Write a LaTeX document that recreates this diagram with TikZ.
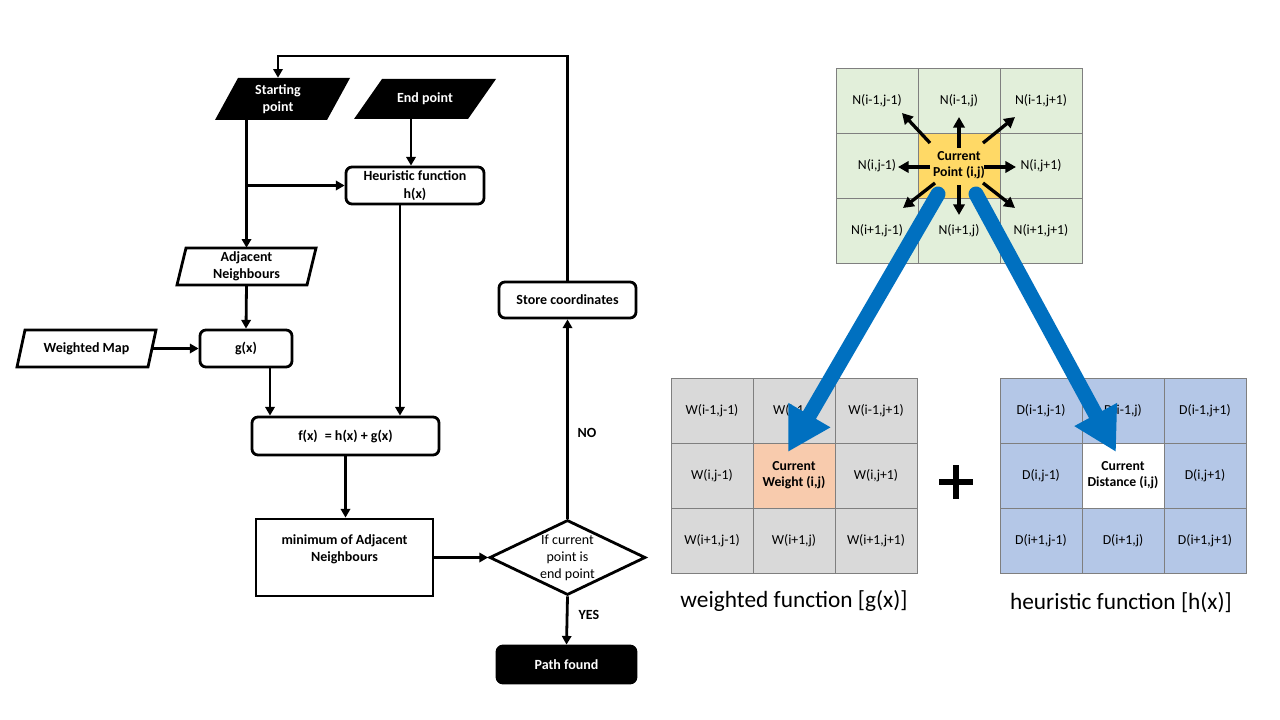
\documentclass[tikz,border=0pt]{standalone}
\usepackage{fontspec}
\setmainfont{Carlito}
\usetikzlibrary{arrows.meta,shapes.geometric,calc}
\definecolor{cgreen}{HTML}{E2EFDA}
\definecolor{cyellow}{HTML}{FFD966}
\definecolor{cgray}{HTML}{D9D9D9}
\definecolor{cpeach}{HTML}{F8CBAD}
\definecolor{cblue}{HTML}{B4C7E7}
\definecolor{abl}{HTML}{0070C0}
\definecolor{gline}{HTML}{7F7F7F}
\newcommand\flfont{\fontsize{10.5}{13}\selectfont\bfseries}
\newcommand\cellfont{\fontsize{10.3}{12}\selectfont}
\begin{document}
\begin{tikzpicture}[x=0.75pt,y=-0.75pt,
  arr/.style={line width=2.1pt,-{Triangle[length=6.5pt,width=7pt]}},
  fbox/.style={draw,line width=2.1pt,fill=white,inner sep=0pt,align=center,font=\flfont},
  rbox/.style={fbox,rounded corners=4.5pt},
  ptxt/.style={inner sep=0pt,align=center,font=\flfont},
  pline/.style={draw,line width=2.1pt,fill=white},
  cell/.style={draw=gline,line width=0.7pt,minimum width=61.5pt,minimum height=48.75pt,inner sep=0pt,align=center,font=\cellfont},
  ccell/.style={cell,font=\cellfont\bfseries},
  narr/.style={line width=2.5pt,-{Triangle[length=8pt,width=8.5pt]}},
  barr/.style={draw=abl,line width=11.25pt,line cap=round,-{Triangle[length=32pt,width=34pt]}},
  capt/.style={font=\fontsize{17.5}{20}\selectfont}
]
\useasboundingbox (0,0) rectangle (1280,720);
\fill[white] (0,0) rectangle (1280,720);

% ---------- flowchart ----------
% Starting point
\fill[black] (215,120) -- (327,120) -- (350,78) -- (238,78) -- cycle;
\node[ptxt,minimum width=84pt,minimum height=31.5pt] (sp) at (282.5,99) {};
\node[ptxt,text=white] (sptxt) at (278,99) {Starting\\point};
% End point
\fill[black] (354,119) -- (468,119) -- (496,79) -- (382,79) -- cycle;
\node[ptxt,text=white,minimum width=85.5pt,minimum height=30pt] (ep) at (425,99) {End point};
% Adjacent Neighbours
\path[pline] (177,285) -- (307,285) -- (316,248) -- (186,248) -- cycle;
\node[ptxt,minimum width=97.5pt,minimum height=27.75pt] (adj) at (246.5,266.5) {Adjacent\\Neighbours};
% Weighted Map
\path[pline] (17,367) -- (148,367) -- (156,330) -- (25,330) -- cycle;
\node[ptxt,minimum width=98.25pt,minimum height=27.75pt] (wm) at (86.5,348.5) {Weighted Map};

\node[rbox,minimum width=103.5pt,minimum height=27.75pt] (hx) at (415,185.5) {Heuristic function\\h(x)};
\node[rbox,minimum width=69pt,minimum height=27.75pt] (gx) at (246,348.5) {g(x)};
\node[rbox,minimum width=140.25pt,minimum height=28.5pt] (fx) at (345.5,436) {f(x)\enspace= h(x) + g(x)};
\node[fbox,minimum width=132.75pt,minimum height=57.75pt] (minb) at (344.5,557.5) {};
\node[ptxt] (mintxt) at (344.5,549) {minimum of Adjacent\\Neighbours};
\node[draw,diamond,line width=2.1pt,fill=white,minimum width=117pt,minimum height=56.25pt,inner sep=0pt] (dec) at (567.5,557.5) {};
\node[inner sep=0pt,align=center,font=\fontsize{10.5}{12.75}\selectfont] (dectxt) at (567.5,557.5) {If current\\point is\\end point};
\node[rbox,minimum width=102.75pt,minimum height=27pt] (store) at (567.5,300) {Store coordinates};
\node[rbox,fill=black,text=white,minimum width=104.25pt,minimum height=27.75pt] (pf) at (566.5,664.5) {Path found};

% connectors
\coordinate (loopR) at (567.5,56);
\coordinate (loopL) at (278,56);
\draw[arr] (store.north) -- (loopR) -- (loopL) -- (sptxt |- sp.north);
\draw[arr] (adj.north |- sp.south) -- (adj.north);
\draw[arr] (adj.north |- hx.west) -- (hx.west);
\coordinate (epo) at (411,119);
\draw[arr] (epo) -- (epo |- hx.north);
\coordinate (hxo) at (400,204);
\draw[arr] (hxo) -- (hxo |- fx.north);
\draw[arr] (adj.south) -- (gx.north);
\draw[arr] (wm.east) -- (gx.west);
\coordinate (gxo) at (270,367);
\draw[arr] (gxo) -- (gxo |- fx.north);
\draw[arr] (fx.south) -- (fx.south |- minb.north);
\draw[arr] (minb.east) -- (dec.west);
\draw[arr] (dec.north) -- (store.south);
\draw[arr] (dec.south) -- (pf.north);
\node[font=\flfont] (nolab) at (587,433) {NO};
\node[font=\flfont] (yeslab) at (589,615) {YES};

% ---------- top grid ----------
\node[cell,fill=cgreen] (n11) at (877,100.5) {N(i-1,j-1)};
\node[cell,fill=cgreen] (n12) at (959,100.5) {N(i-1,j)};
\node[cell,fill=cgreen] (n13) at (1041,100.5) {N(i-1,j+1)};
\node[cell,fill=cgreen] (n21) at (877,165.5) {N(i,j-1)};
\node[ccell,fill=cyellow] (cp) at (959,165.5) {Current\\Point (i,j)};
\node[cell,fill=cgreen] (n23) at (1041,165.5) {N(i,j+1)};
\node[cell,fill=cgreen] (n31) at (877,230.5) {N(i+1,j-1)};
\node[cell,fill=cgreen] (n32) at (959,230.5) {N(i+1,j)};
\node[cell,fill=cgreen] (n33) at (1041,230.5) {N(i+1,j+1)};

\draw[narr] ($(cp)+(0,-17.5)$) -- ($(cp)+(0,-48.5)$);
\draw[narr] ($(cp)+(0,19.5)$) -- ($(cp)+(0,49.5)$);
\draw[narr] ($(cp)+(-29,1.5)$) -- ($(cp)+(-61,1.5)$);
\draw[narr] ($(cp)+(25,1.5)$) -- ($(cp)+(57,1.5)$);
\draw[narr] ($(cp)+(-29,-22.5)$) -- ($(cp)+(-57,-52.5)$);
\draw[narr] ($(cp)+(24,-22.5)$) -- ($(cp)+(56,-48.5)$);
\draw[narr] ($(cp)+(-24,17.5)$) -- ($(cp)+(-56,42.5)$);
\draw[narr] ($(cp)+(24,17.5)$) -- ($(cp)+(56,42.5)$);

% ---------- weight grid ----------
\node[cell,fill=cgray] (w11) at (712,410.5) {W(i-1,j-1)};
\node[cell,fill=cgray] (w12) at (794,410.5) {W(i-1,j)};
\node[cell,fill=cgray] (w13) at (876,410.5) {W(i-1,j+1)};
\node[cell,fill=cgray] (w21) at (712,475.5) {W(i,j-1)};
\node[ccell,fill=cpeach] (cw) at (794,475.5) {Current\\Weight (i,j)};
\node[cell,fill=cgray] (w23) at (876,475.5) {W(i,j+1)};
\node[cell,fill=cgray] (w31) at (712,540.5) {W(i+1,j-1)};
\node[cell,fill=cgray] (w32) at (794,540.5) {W(i+1,j)};
\node[cell,fill=cgray] (w33) at (876,540.5) {W(i+1,j+1)};

% ---------- distance grid ----------
\node[cell,fill=cblue] (d11) at (1041,410.5) {D(i-1,j-1)};
\node[cell,fill=cblue] (d12) at (1123,410.5) {D(i-1,j)};
\node[cell,fill=cblue] (d13) at (1205,410.5) {D(i-1,j+1)};
\node[cell,fill=cblue] (d21) at (1041,475.5) {D(i,j-1)};
\node[ccell,fill=white] (cd) at (1123,475.5) {Current\\Distance (i,j)};
\node[cell,fill=cblue] (d23) at (1205,475.5) {D(i,j+1)};
\node[cell,fill=cblue] (d31) at (1041,540.5) {D(i+1,j-1)};
\node[cell,fill=cblue] (d32) at (1123,540.5) {D(i+1,j)};
\node[cell,fill=cblue] (d33) at (1205,540.5) {D(i+1,j+1)};

% plus
\draw[line width=5.2pt] (939,482) -- (973,482) (956,465) -- (956,499);

% captions
\node[capt] (capg) at (794,601) {weighted function [g(x)]};
\node[capt] (caph) at (1121,603) {heuristic function [h(x)]};

% blue arrows
\draw[barr] ($(cp)+(-21,28.5)$) -- ($(cw)+(-6,-23.5)$);
\draw[barr] ($(cp)+(17,28.5)$) -- ($(cd)+(-7,-23.5)$);
\end{tikzpicture}
\end{document}
